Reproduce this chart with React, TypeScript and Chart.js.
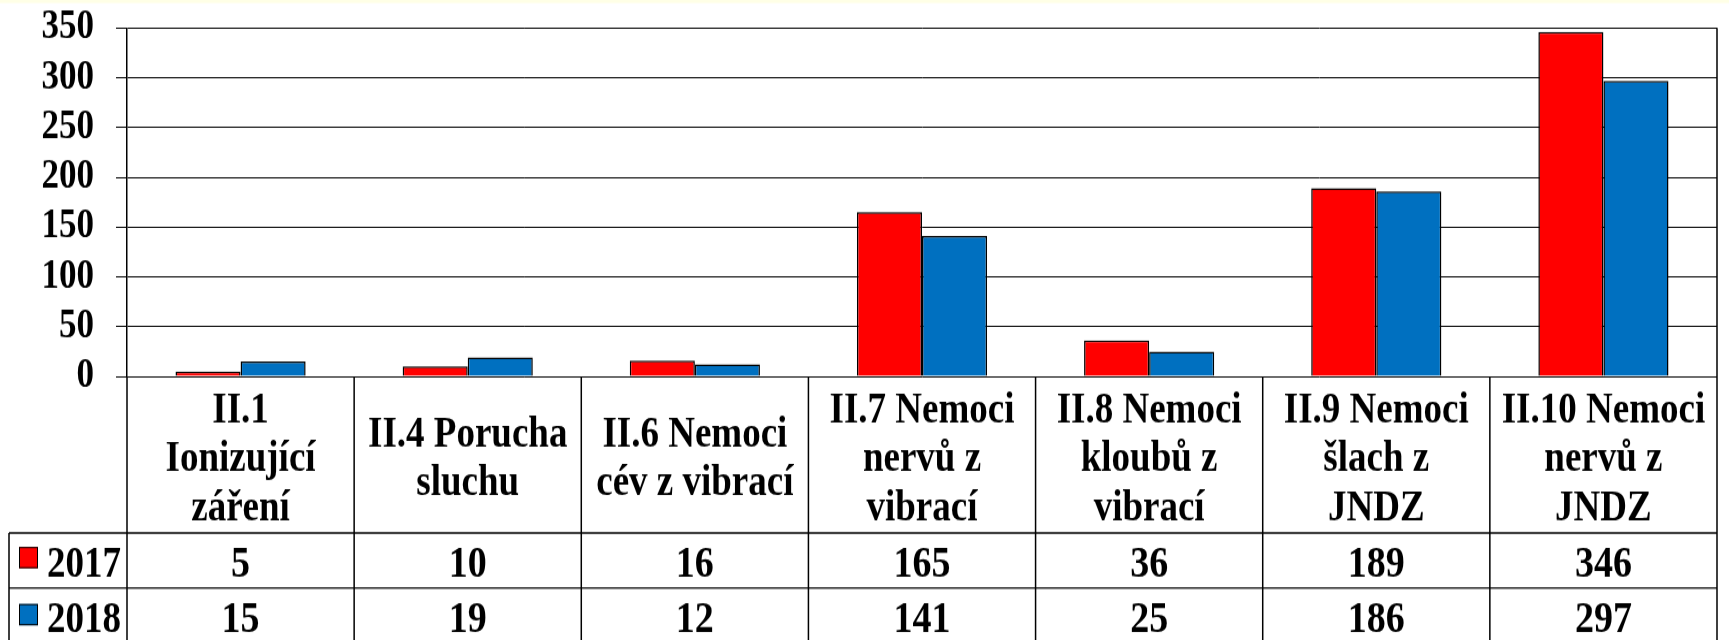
import React, { useEffect, useRef } from "react";
import { Chart, registerables } from "chart.js";

Chart.register(...registerables);

const categories: string[][] = [
  ["II.1", "Ionizující", "záření"],
  ["II.4 Porucha", "sluchu"],
  ["II.6 Nemoci", "cév z vibrací"],
  ["II.7 Nemoci", "nervů z", "vibrací"],
  ["II.8 Nemoci", "kloubů z", "vibrací"],
  ["II.9 Nemoci", "šlach z", "JNDZ"],
  ["II.10 Nemoci", "nervů z", "JNDZ"],
];
const seriesNames = ["2017", "2018"];
const values2017 = [5, 10, 16, 165, 36, 189, 346];
const values2018 = [15, 19, 12, 141, 25, 186, 297];
const seriesColors = ["#FF0000", "#0070C0"];
const yTicks = [0, 50, 100, 150, 200, 250, 300, 350];

const W = 1729;
const H = 640;
const HI = 556; // internal canvas height, stretched vertically to H
const FONT = '"Liberation Serif", "Times New Roman", serif';

const tablePlugin = {
  id: "dataTable",
  beforeDraw(chart: any) {
    const ctx = chart.ctx;
    ctx.save();
    ctx.fillStyle = "#FFFFFF";
    ctx.fillRect(0, 0, W, HI);
    ctx.fillStyle = "#FFFFE6";
    ctx.fillRect(0, 0, W, 2.6);
    ctx.restore();
  },
  afterDraw(chart: any) {
    const ctx = chart.ctx;
    const xs = chart.scales.x;
    const area = chart.chartArea;
    const n = categories.length;
    const step = (area.right - area.left) / n;
    const headerTop = area.bottom;
    const headerBottom = xs.bottom;
    const rowH = 47.8;
    const row1Bottom = headerBottom + rowH;
    const tableLeft = 9;
    ctx.save();
    ctx.strokeStyle = "#000000";
    ctx.lineWidth = 1.5;
    ctx.beginPath();
    ctx.moveTo(area.right, area.top);
    ctx.lineTo(area.right, HI);
    ctx.moveTo(area.left, headerTop);
    ctx.lineTo(area.left, HI);
    for (let i = 1; i < n; i++) {
      const bx = xs.getPixelForValue(i) - step / 2;
      ctx.moveTo(bx, headerTop);
      ctx.lineTo(bx, HI);
    }
    ctx.moveTo(tableLeft, headerBottom);
    ctx.lineTo(tableLeft, HI);
    ctx.stroke();
    ctx.lineWidth = 1.3;
    ctx.beginPath();
    ctx.moveTo(tableLeft, headerBottom);
    ctx.lineTo(area.right, headerBottom);
    ctx.moveTo(tableLeft, row1Bottom);
    ctx.lineTo(area.right, row1Bottom);
    ctx.stroke();

    const rows = [values2017, values2018];
    const baselines = [headerBottom + 38.3, row1Bottom + 38.2];
    const squareTops = [headerBottom + 12.2, row1Bottom + 13.9];
    ctx.textBaseline = "alphabetic";
    for (let r = 0; r < rows.length; r++) {
      ctx.fillStyle = seriesColors[r];
      ctx.fillRect(19, squareTops[r], 19, 18.5);
      ctx.lineWidth = 1;
      ctx.strokeStyle = "#000000";
      ctx.strokeRect(19.5, squareTops[r] + 0.5, 18, 17.5);
      ctx.fillStyle = "#000000";
      ctx.font = `bold 37px ${FONT}`;
      ctx.textAlign = "left";
      ctx.fillText(seriesNames[r], 47, baselines[r]);
      ctx.font = `bold 38px ${FONT}`;
      ctx.textAlign = "center";
      for (let i = 0; i < n; i++) {
        ctx.fillText(String(rows[r][i]), xs.getPixelForValue(i), baselines[r]);
      }
    }
    ctx.restore();
  },
};

export default function App() {
  const ref = useRef<HTMLCanvasElement | null>(null);
  useEffect(() => {
    document.body.style.margin = "0";
    const canvas = ref.current;
    if (!canvas) return;
    const chart = new Chart(canvas, {
      type: "bar",
      data: {
        labels: categories,
        datasets: [
          {
            label: seriesNames[0],
            data: values2017,
            backgroundColor: seriesColors[0],
            borderColor: "#000000",
            borderWidth: 1.5,
            barPercentage: 1,
            categoryPercentage: 0.573,
          },
          {
            label: seriesNames[1],
            data: values2018,
            backgroundColor: seriesColors[1],
            borderColor: "#000000",
            borderWidth: 1.5,
            barPercentage: 1,
            categoryPercentage: 0.573,
          },
        ],
      },
      options: {
        responsive: false,
        animation: false,
        devicePixelRatio: 1,
        layout: { padding: { top: 24.3, right: 12, bottom: 93, left: 0 } },
        plugins: {
          legend: { display: false },
          tooltip: { enabled: false },
        },
        scales: {
          x: {
            grid: { display: false },
            border: { display: false },
            ticks: {
              autoSkip: false,
              maxRotation: 0,
              minRotation: 0,
              color: "#000000",
              padding: 22,
              crossAlign: "center",
              font: { family: FONT, size: 37, weight: "bold", lineHeight: 1.151 },
            },
            afterFit: (s: any) => {
              s.height = 136;
            },
          },
          y: {
            min: yTicks[0],
            max: yTicks[yTicks.length - 1],
            grid: {
              color: "#000000",
              lineWidth: 1,
              tickLength: 11,
              drawTicks: true,
            },
            border: { display: true, color: "#000000", width: 1.5 },
            ticks: {
              stepSize: yTicks[1] - yTicks[0],
              color: "#000000",
              padding: 22,
              font: { family: FONT, size: 35, weight: "bold", lineHeight: 0.02 },
            },
            afterFit: (s: any) => {
              s.width = 127;
              s.paddingTop = 0;
              s.paddingBottom = 0;
            },
          },
        },
      },
      plugins: [tablePlugin],
    });
    return () => chart.destroy();
  }, []);
  return (
    <div style={{ width: W, height: H, overflow: "hidden", background: "#FFFFFF" }}>
      <canvas
        ref={ref}
        width={W}
        height={HI}
        style={{
          display: "block",
          width: W,
          height: HI,
          transform: `scaleY(${H / HI})`,
          transformOrigin: "0 0",
        }}
      />
    </div>
  );
}
